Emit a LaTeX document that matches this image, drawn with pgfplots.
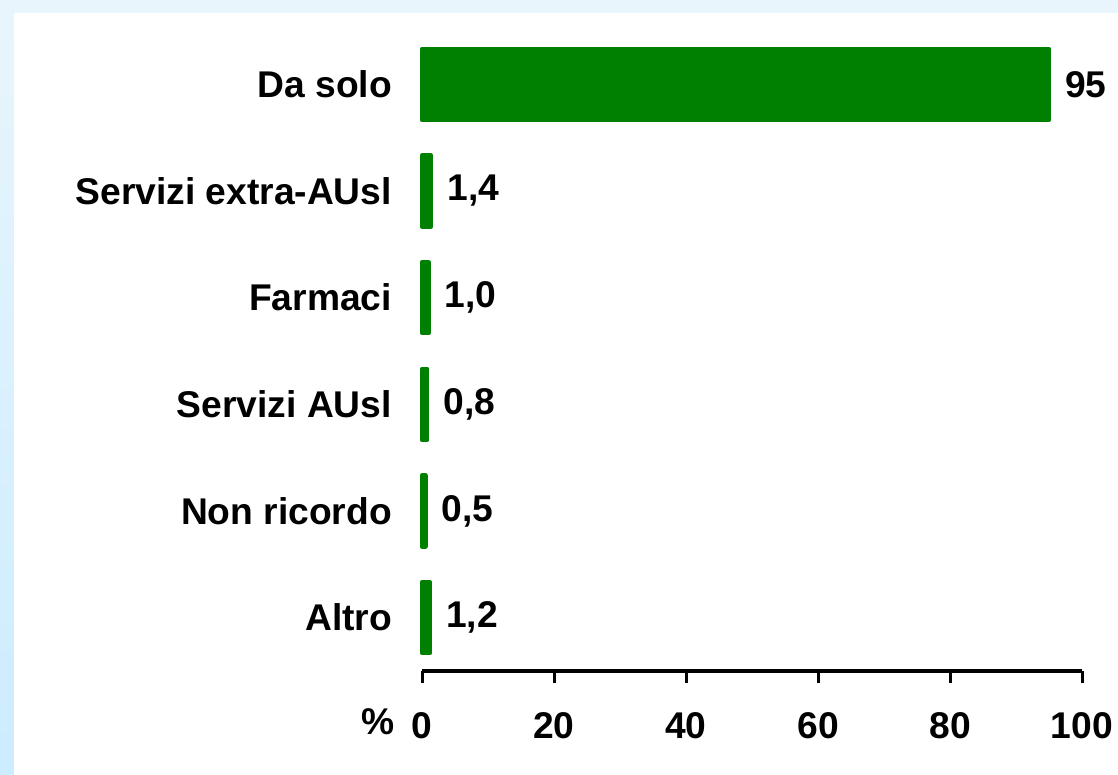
\documentclass[border=0pt]{standalone}
\usepackage{fontspec}
\setmainfont{Liberation Sans}
\usepackage{pgfplots}
\pgfplotsset{compat=1.18}
\definecolor{bargreen}{RGB}{0,128,0}
\newcommand{\lblfont}{\fontsize{18.6}{21}\selectfont\bfseries}
\begin{document}
\begin{tikzpicture}
\path[use as bounding box] (0,0) rectangle (559pt,387.5pt);
\shade[top color={rgb,255:red,232;green,245;blue,253}, bottom color={rgb,255:red,204;green,236;blue,255}] (0,0) rectangle (559pt,387.5pt);
\fill[white] (7pt,0) rectangle (559pt,381pt);
\begin{axis}[
  at={(211pt,52pt)}, anchor=south west,
  scale only axis, width=330pt, height=320pt,
  xmin=0, xmax=100, ymin=-0.5, ymax=5.5,
  xbar, bar width=0.665, bar shift=0pt,
  clip=false,
  axis x line*=bottom, axis y line*=left,
  x axis line style={-, line width=1.8pt, black},
  y axis line style={draw=none},
  ytick={0,...,5},
  yticklabels={Altro, Non ricordo, Servizi AUsl, Farmaci, Servizi extra-AUsl, Da solo},
  ytick style={draw=none},
  xtick={0,20,...,100},
  xtick align=outside,
  major tick length=6pt,
  xtick style={line width=1.5pt, black},
  /pgf/number format/assume math mode=true,
  tick label style={font=\lblfont},
  yticklabel style={anchor=east, xshift=-5.5pt},
  xticklabel style={yshift=-11pt},
]
\addplot[fill=bargreen, draw=bargreen, line width=2.2pt, line join=round,
  nodes near coords, point meta=explicit symbolic,
  nodes near coords style={anchor=west, inner sep=0pt, xshift=7pt, font=\lblfont, black}]
  table[x=x, y=y, meta=lab] {
x y lab
95 5 95
1.4 4 1,4
1.0 3 1,0
0.8 2 0,8
0.5 1 0,5
1.2 0 1,2
};
\end{axis}
\node[font=\lblfont] at (189pt,26.5pt) {\%};
\end{tikzpicture}
\end{document}
